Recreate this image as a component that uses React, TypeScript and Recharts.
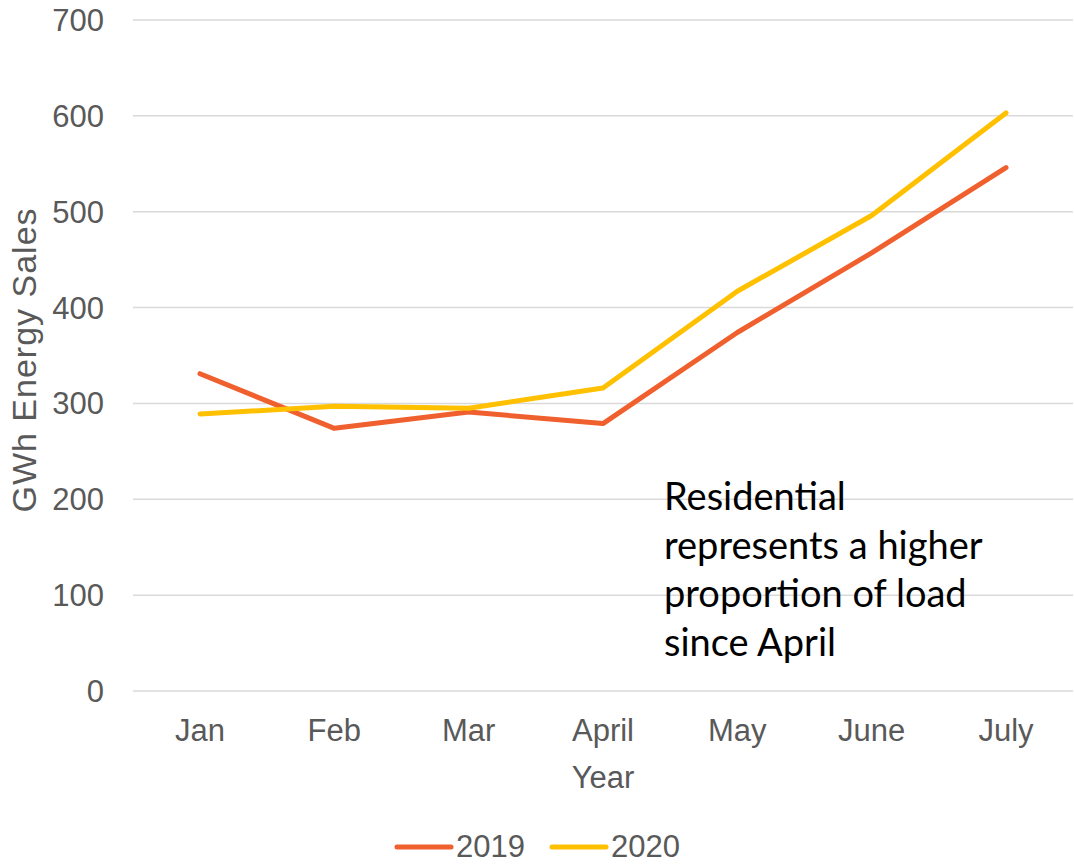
import { LineChart, Line, XAxis, YAxis, CartesianGrid, Legend } from 'recharts';

const months = ['Jan', 'Feb', 'Mar', 'April', 'May', 'June', 'July'];
const sales2019 = [331, 274, 291, 279, 374, 457, 546];
const sales2020 = [289, 297, 295, 316, 417, 496, 603];
const yTicks = [0, 100, 200, 300, 400, 500, 600, 700];

const data = months.map((m, i) => ({ month: m, y2019: sales2019[i], y2020: sales2020[i] }));

const AXIS_FONT = 'Arial, "Liberation Sans", sans-serif';
const TEXT_GRAY = '#595959';
const RED = '#F0602E';
const YELLOW = '#FFC000';

const renderLegend = () => (
  <div style={{ display: 'flex', justifyContent: 'center', alignItems: 'center', fontFamily: AXIS_FONT, fontSize: 31, color: TEXT_GRAY, lineHeight: '34px' }}>
    {[
      { label: '2019', color: RED },
      { label: '2020', color: YELLOW },
    ].map((item, idx) => (
      <div key={idx} style={{ display: 'flex', alignItems: 'center', marginRight: idx === 0 ? 24 : 0 }}>
        <svg width={60} height={10} style={{ marginRight: 2 }}>
          <line x1={3} y1={5} x2={57} y2={5} stroke={item.color} strokeWidth={5} strokeLinecap="round" />
        </svg>
        <span>{item.label}</span>
      </div>
    ))}
  </div>
);

export default function App() {
  return (
    <div style={{ position: 'absolute', left: 0, top: 0, width: 1074, height: 865, background: '#fff', overflow: 'hidden' }}>
      <LineChart width={1074} height={865} data={data} margin={{ top: 20, right: 1, left: 0, bottom: 0 }}>
        <CartesianGrid vertical={false} stroke="#D9D9D9" strokeWidth={1.5} />
        <XAxis
          dataKey="month"
          height={174}
          axisLine={false}
          tickLine={false}
          tickSize={0}
          tickMargin={28}
          padding={{ left: 67, right: 67 }}
          tick={{ fill: TEXT_GRAY, fontSize: 31, fontFamily: AXIS_FONT }}
          interval={0}
          label={({ viewBox }: any) => (
            <text x={viewBox.x + viewBox.width / 2} y={788} textAnchor="middle" fill={TEXT_GRAY} fontSize={31} fontFamily={AXIS_FONT}>
              Year
            </text>
          )}
        />
        <YAxis
          width={133}
          domain={[0, 700]}
          ticks={yTicks}
          axisLine={false}
          tickLine={false}
          tickSize={0}
          tickMargin={29}
          tick={{ fill: TEXT_GRAY, fontSize: 31, fontFamily: AXIS_FONT }}
          label={() => (
            <text x={36} y={360} transform="rotate(-90 36 360)" textAnchor="middle" fill={TEXT_GRAY} fontSize={34} letterSpacing={1} fontFamily={AXIS_FONT}>
              GWh Energy Sales
            </text>
          )}
        />
        <Legend
          layout="horizontal"
          verticalAlign="middle"
          align="center"
          content={renderLegend}
          wrapperStyle={{ top: 830, left: 0, width: 1074, height: 34 }}
        />
        <Line type="linear" dataKey="y2019" name="2019" stroke={RED} strokeWidth={5} strokeLinecap="round" strokeLinejoin="round" dot={false} activeDot={false} isAnimationActive={false} />
        <Line type="linear" dataKey="y2020" name="2020" stroke={YELLOW} strokeWidth={5} strokeLinecap="round" strokeLinejoin="round" dot={false} activeDot={false} isAnimationActive={false} />
      </LineChart>
      <div
        style={{
          position: 'absolute',
          left: 664,
          top: 471,
          fontFamily: 'Lato, "Noto Sans", sans-serif',
          fontSize: 38,
          lineHeight: '48.5px',
          color: '#000',
          whiteSpace: 'nowrap',
        }}
      >
        Residential
        <br />
        represents a higher
        <br />
        proportion of load
        <br />
        since April
      </div>
    </div>
  );
}
